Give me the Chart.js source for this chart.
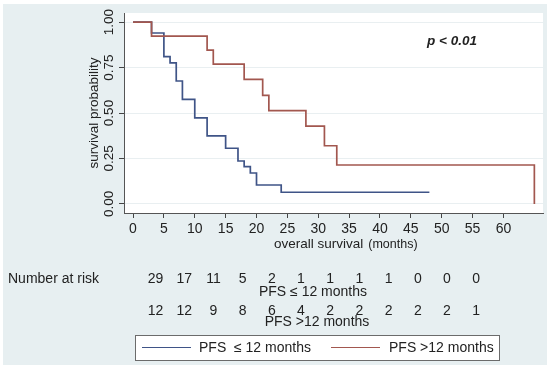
<!DOCTYPE html>
<html>
<head>
<meta charset="utf-8">
<script src="https://cdn.jsdelivr.net/npm/chart.js@4"></script>
<style>
html,body{margin:0;padding:0;background:#fff;}
#wrap{width:550px;height:371px;position:relative;}
</style>
</head>
<body>
<div id="wrap"><canvas id="c" width="550" height="371"></canvas></div>
<script>
// ---- data ----
const lowLabel = "PFS  \u2264 12 months";
const highLabel = "PFS >12 months";
const lowMonths = [0, 3, 5, 6, 7, 8, 10, 12, 15, 17, 18, 19, 20, 24, 48];
const lowSurv   = [1, 0.94, 0.81, 0.776, 0.676, 0.575, 0.473, 0.374, 0.306, 0.236, 0.205, 0.17, 0.104, 0.064, 0.064];
const highMonths = [0, 3, 12, 13, 18, 21, 22, 28, 31, 33, 65];
const highSurv   = [1, 0.923, 0.846, 0.769, 0.685, 0.597, 0.513, 0.428, 0.32, 0.214, 0];
const xTicks = [0, 5, 10, 15, 20, 25, 30, 35, 40, 45, 50, 55, 60];
const yTicks = [0, 0.25, 0.5, 0.75, 1];
const riskLow  = [29, 17, 11, 5, 2, 1, 1, 1, 1, 0, 0, 0];
const riskHigh = [12, 12, 9, 8, 6, 4, 2, 2, 2, 2, 2, 1];
const riskLowName = "PFS \u2264 12 months";
const riskHighName = "PFS >12 months";
const pText = "p < 0.01";

const FONT = "'Liberation Sans', Arial, sans-serif";
const BLUE = '#3f5487';
const RED = '#a2574f';

const toPts = (xs, ys) => xs.map((x, i) => ({x: x, y: ys[i]}));

const decor = {
  id: 'decor',
  beforeDraw(chart) {
    const ctx = chart.ctx, a = chart.chartArea;
    ctx.save();
    ctx.fillStyle = '#e7eff1';
    ctx.fillRect(3, 4, 544, 361);
    ctx.fillStyle = '#ffffff';
    ctx.fillRect(a.left, a.top, a.right - a.left, a.bottom - a.top);
    ctx.restore();
  },
  afterDraw(chart) {
    const ctx = chart.ctx, a = chart.chartArea;
    const ys = chart.scales.y;
    ctx.save();
    ctx.fillStyle = '#222';
    // y tick labels, rotated
    ctx.font = '13.5px ' + FONT;
    ctx.textAlign = 'center';
    ctx.textBaseline = 'middle';
    ys.ticks.forEach(t => {
      const py = ys.getPixelForValue(t.value);
      ctx.save();
      ctx.translate(109, py);
      ctx.rotate(-Math.PI / 2);
      ctx.fillText(t.value.toFixed(2), 0, 0);
      ctx.restore();
    });
    // y title
    ctx.save();
    ctx.font = '13.5px ' + FONT;
    ctx.translate(94, (a.top + a.bottom) / 2);
    ctx.rotate(-Math.PI / 2);
    ctx.fillText('survival probability', 0, 0);
    ctx.restore();
    // x title
    ctx.textAlign = 'left';
    ctx.font = '13.5px ' + FONT;
    const t1 = 'overall survival';
    ctx.fillText(t1, 274, 244);
    const w1 = ctx.measureText(t1).width;
    ctx.font = '12.5px ' + FONT;
    ctx.fillText('(months)', 274 + w1 + 5, 245);
    // p value
    ctx.font = 'italic bold 13.5px ' + FONT;
    ctx.textAlign = 'center';
    ctx.fillText(pText, 452, 41);
    // number at risk
    ctx.font = '14px ' + FONT;
    ctx.textAlign = 'left';
    ctx.fillText('Number at risk', 8, 279);
    ctx.textAlign = 'center';
    const x0 = 155.5, step = 29.2;
    riskLow.forEach((v, i) => ctx.fillText(String(v), x0 + step * i + (i === 0 ? 0 : -0.5), 279));
    riskHigh.forEach((v, i) => ctx.fillText(String(v), x0 + step * i + (i === 0 ? 0 : -0.5), 311));
    ctx.fillText(riskLowName, 313, 292);
    ctx.fillText(riskHighName, 317, 322);
    // legend box
    ctx.fillStyle = '#ffffff';
    ctx.fillRect(135, 335, 364, 25);
    ctx.strokeStyle = '#6b6b6b';
    ctx.lineWidth = 1;
    ctx.strokeRect(135.5, 335.5, 364, 25);
    const ds = chart.data.datasets;
    const items = [{ds: ds[1], lx: 142, tx: 199}, {ds: ds[0], lx: 331, tx: 389}];
    ctx.textAlign = 'left';
    ctx.font = '14px ' + FONT;
    items.forEach(it => {
      ctx.strokeStyle = it.ds.borderColor;
      ctx.lineWidth = 1.2;
      ctx.beginPath();
      ctx.moveTo(it.lx, 347.5);
      ctx.lineTo(it.lx + 49, 347.5);
      ctx.stroke();
      ctx.fillStyle = '#222';
      ctx.fillText(it.ds.label, it.tx, 348);
    });
    ctx.restore();
  }
};

new Chart(document.getElementById('c'), {
  type: 'line',
  data: {
    datasets: [
      {label: highLabel, data: toPts(highMonths, highSurv), borderColor: RED, borderWidth: 1.7, stepped: 'before', pointRadius: 0, fill: false, order: 0},
      {label: lowLabel, data: toPts(lowMonths, lowSurv), borderColor: BLUE, borderWidth: 1.7, stepped: 'before', pointRadius: 0, fill: false, order: 1}
    ]
  },
  options: {
    responsive: false,
    animation: false,
    layout: {padding: {left: 0, top: 13, right: 7, bottom: 118}},
    plugins: {legend: {display: false}, tooltip: {enabled: false}},
    scales: {
      x: {
        type: 'linear', min: -1.46, max: 66.4,
        afterBuildTicks: s => { s.ticks = xTicks.map(v => ({value: v})); },
        afterFit: s => { s.height = 40; },
        grid: {display: true, drawOnChartArea: false, drawTicks: true, tickLength: 5, tickColor: '#444', tickWidth: 1},
        border: {display: true, color: '#555', width: 1},
        ticks: {font: {family: FONT, size: 14}, color: '#222', padding: 3, maxRotation: 0, autoSkip: false}
      },
      y: {
        type: 'linear', min: -0.05, max: 1.05,
        afterBuildTicks: s => { s.ticks = yTicks.map(v => ({value: v})); },
        afterFit: s => { s.width = 124; },
        grid: {display: true, color: '#e9eff1', lineWidth: 1, drawTicks: true, tickLength: 5, tickColor: '#444', tickWidth: 1},
        border: {display: true, color: '#555', width: 1},
        ticks: {display: false}
      }
    }
  },
  plugins: [decor]
});
</script>
</body>
</html>
